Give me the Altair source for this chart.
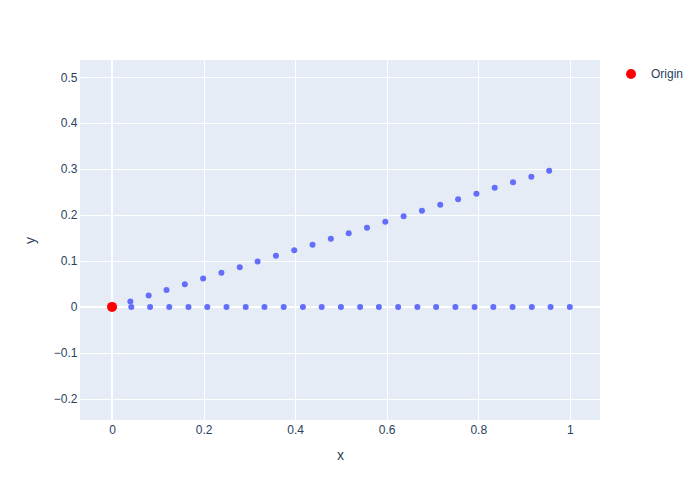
import altair as alt
import pandas as pd

# Rotated series (upper)
rot_x = [0.040, 0.080, 0.119, 0.159, 0.199, 0.239, 0.279, 0.318, 0.358, 0.398, 0.438, 0.478,
         0.517, 0.557, 0.597, 0.637, 0.677, 0.717, 0.756, 0.796, 0.836, 0.876, 0.916, 0.955]
rot_y = [0.012, 0.025, 0.037, 0.049, 0.062, 0.074, 0.086, 0.099, 0.111, 0.123, 0.135, 0.148,
         0.160, 0.172, 0.185, 0.197, 0.209, 0.222, 0.234, 0.246, 0.259, 0.271, 0.283, 0.296]
# Flat series (lower, y = 0)
flat_x = [0.042, 0.083, 0.125, 0.167, 0.208, 0.250, 0.292, 0.333, 0.375, 0.417, 0.458, 0.500,
          0.542, 0.583, 0.625, 0.667, 0.708, 0.750, 0.792, 0.833, 0.875, 0.917, 0.958, 1.000]
flat_y = [0.0] * 24
# Origin
origin_x = [0.0]
origin_y = [0.0]
origin_name = ["Origin"]

x_ticks = [0, 0.2, 0.4, 0.6, 0.8, 1]
y_ticks = [-0.2, -0.1, 0, 0.1, 0.2, 0.3, 0.4, 0.5]
x_domain = [-0.07, 1.066]
y_domain = [-0.246, 0.537]

FONT = "Liberation Sans"
TXT = "#2a3f5f"

blue = pd.DataFrame({"x": rot_x + flat_x, "y": rot_y + flat_y})
orig = pd.DataFrame({"x": origin_x, "y": origin_y, "name": origin_name})
zero = pd.DataFrame({"v": [0.0]})

xs = alt.Scale(domain=x_domain, nice=False, zero=False)
ys = alt.Scale(domain=y_domain, nice=False, zero=False)

xax = alt.Axis(values=x_ticks, format=".1~f", title="x", grid=True, gridColor="white",
               gridWidth=1, ticks=False, domain=False, labelPadding=4, titlePadding=13,
               labelFontSize=12, titleFontSize=14, labelColor=TXT, titleColor=TXT,
               titleFontWeight="normal", labelFont=FONT, titleFont=FONT)
yax = alt.Axis(values=y_ticks, format=".1~f", title="y", grid=True, gridColor="white",
               gridWidth=1, ticks=False, domain=False, labelPadding=3, titlePadding=16,
               labelFontSize=12, titleFontSize=14, labelColor=TXT, titleColor=TXT,
               titleFontWeight="normal", labelFont=FONT, titleFont=FONT)

base_pts = alt.Chart(blue).mark_circle(size=36, opacity=1, color="#636efa").encode(
    x=alt.X("x:Q", scale=xs, axis=xax),
    y=alt.Y("y:Q", scale=ys, axis=yax),
)

vzero = alt.Chart(zero).mark_rule(color="white", strokeWidth=2).encode(x=alt.X("v:Q", scale=xs))
hzero = alt.Chart(zero).mark_rule(color="white", strokeWidth=2).encode(y=alt.Y("v:Q", scale=ys))

origin_pts = alt.Chart(orig).mark_circle(size=100, opacity=1).encode(
    x=alt.X("x:Q", scale=xs),
    y=alt.Y("y:Q", scale=ys),
    color=alt.Color("name:N", scale=alt.Scale(domain=["Origin"], range=["red"]),
                    legend=alt.Legend(title=None, orient="none", legendX=545, legendY=8,
                                      symbolType="circle", symbolSize=100, symbolOpacity=1,
                                      labelFontSize=12, labelColor=TXT, labelFont=FONT,
                                      labelOffset=14, padding=0)),
)

chart = alt.layer(vzero, hzero, base_pts, origin_pts).properties(
    width=520, height=360,
    autosize=alt.AutoSizeParams(type="none"),
    padding={"left": 72, "top": 52, "right": 88, "bottom": 60},
    background="white",
).configure_view(fill="#E5ECF6", stroke=None)

chart.save("out.html", embed_options={"renderer": "svg", "actions": False})
